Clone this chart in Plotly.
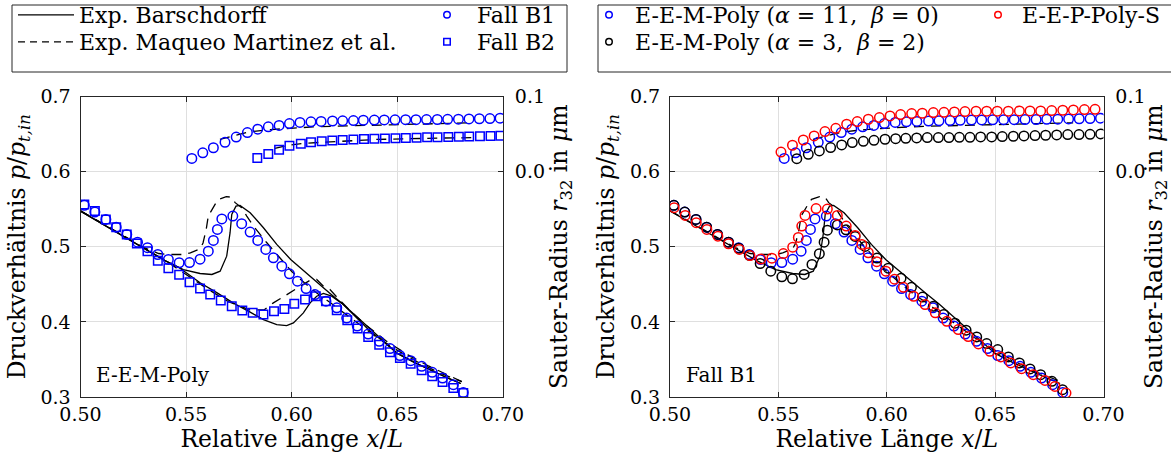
import plotly.graph_objects as go

FONT = "DejaVu Serif"
W, H = 1171, 463

# ---------------- data ----------------
# Fall B1 (E-E-M-Poly alpha=11, beta=0): pressure ratio
x_b1 = [0.5018, 0.5068, 0.5120, 0.5169, 0.5219, 0.5270, 0.5317, 0.5366, 0.5416, 0.5467,
        0.5516, 0.5566, 0.5605, 0.5629, 0.5648, 0.5669, 0.5721, 0.5763, 0.5803, 0.5839,
        0.5877, 0.5913, 0.5953, 0.5989, 0.6027, 0.6068, 0.6110, 0.6162, 0.6213, 0.6260,
        0.6310, 0.6362, 0.6414, 0.6465, 0.6512, 0.6563, 0.6615, 0.6665, 0.6714, 0.6765, 0.6812]
p_b1 = [0.5551, 0.5461, 0.5364, 0.5261, 0.5164, 0.5061, 0.4987, 0.4897, 0.4831, 0.4787,
        0.4790, 0.4835, 0.4941, 0.5084, 0.5231, 0.5370, 0.5408, 0.5307, 0.5195, 0.5084,
        0.4964, 0.4853, 0.4741, 0.4640, 0.4541, 0.4444, 0.4364, 0.4275, 0.4187, 0.4050,
        0.3945, 0.3838, 0.3741, 0.3644, 0.3551, 0.3484, 0.3408, 0.3328, 0.3253, 0.3164, 0.3061]
# Fall B1: Sauter radius
xr_b1 = [0.5527, 0.5579, 0.5629, 0.5684, 0.5737, 0.5790, 0.5839, 0.5889, 0.5940, 0.5989,
         0.6039, 0.6091, 0.6139, 0.6193, 0.6241, 0.6292, 0.6339, 0.6391, 0.6438, 0.6489,
         0.6539, 0.6588, 0.6638, 0.6689, 0.6738, 0.6789, 0.6839, 0.6888, 0.6938, 0.6986]
r_b1 = [0.0175, 0.0250, 0.0318, 0.0390, 0.0460, 0.0520, 0.0565, 0.0596, 0.0615, 0.0640,
        0.0655, 0.0663, 0.0668, 0.0674, 0.0676, 0.0680, 0.0684, 0.0686, 0.0688, 0.0690,
        0.0691, 0.0692, 0.0693, 0.0694, 0.0696, 0.0698, 0.0702, 0.0704, 0.0706, 0.0712]

# Fall B2: pressure ratio
x_b2 = [0.5018, 0.5068, 0.5120, 0.5169, 0.5219, 0.5267, 0.5317, 0.5366, 0.5416, 0.5467,
        0.5516, 0.5566, 0.5614, 0.5664, 0.5716, 0.5766, 0.5815, 0.5866, 0.5916, 0.5965,
        0.6012, 0.6063, 0.6114, 0.6162, 0.6213, 0.6263, 0.6312, 0.6362, 0.6414, 0.6465,
        0.6512, 0.6563, 0.6615, 0.6665, 0.6714, 0.6765, 0.6812]
p_b2 = [0.5564, 0.5475, 0.5364, 0.5260, 0.5164, 0.5044, 0.4941, 0.4812, 0.4715, 0.4626,
        0.4528, 0.4444, 0.4364, 0.4284, 0.4208, 0.4151, 0.4120, 0.4097, 0.4141, 0.4173,
        0.4240, 0.4297, 0.4341, 0.4275, 0.4155, 0.4021, 0.3911, 0.3800, 0.3697, 0.3595,
        0.3520, 0.3444, 0.3355, 0.3275, 0.3200, 0.3120, 0.3053]
# Fall B2: Sauter radius
xr_b2 = [0.5837, 0.5889, 0.5940, 0.5989, 0.6043, 0.6091, 0.6142, 0.6192, 0.6241, 0.6292,
         0.6342, 0.6391, 0.6441, 0.6491, 0.6540, 0.6591, 0.6641, 0.6690, 0.6741, 0.6791,
         0.6840, 0.6891, 0.6941, 0.6988]
r_b2 = [0.0180, 0.0236, 0.0292, 0.0343, 0.0372, 0.0390, 0.0403, 0.0414, 0.0422, 0.0427,
        0.0434, 0.0438, 0.0440, 0.0444, 0.0448, 0.0452, 0.0456, 0.0458, 0.0461, 0.0464,
        0.0467, 0.0470, 0.0473, 0.0476]

# E-E-M-Poly (alpha=3, beta=2): pressure ratio
x_a3 = [0.5018, 0.5068, 0.5120, 0.5169, 0.5219, 0.5270, 0.5317, 0.5366, 0.5416, 0.5465,
        0.5516, 0.5565, 0.5619, 0.5655, 0.5689, 0.5711, 0.5726, 0.5772, 0.5812, 0.5854,
        0.5900, 0.5955, 0.6007, 0.6066, 0.6114, 0.6165, 0.6215, 0.6263, 0.6315, 0.6366,
        0.6415, 0.6461, 0.6512, 0.6561, 0.6612, 0.6661, 0.6710, 0.6762, 0.6811]
p_a3 = [0.5551, 0.5461, 0.5364, 0.5261, 0.5164, 0.5061, 0.4980, 0.4886, 0.4777, 0.4675,
        0.4600, 0.4573, 0.4631, 0.4764, 0.4907, 0.5061, 0.5220, 0.5290, 0.5225, 0.5138,
        0.5004, 0.4850, 0.4715, 0.4580, 0.4460, 0.4330, 0.4209, 0.4098, 0.3982, 0.3889,
        0.3800, 0.3711, 0.3631, 0.3533, 0.3453, 0.3373, 0.3297, 0.3208, 0.3097]
# E-E-M-Poly (alpha=3, beta=2): Sauter radius
xr_a3 = [0.5585, 0.5638, 0.5689, 0.5741, 0.5792, 0.5841, 0.5892, 0.5941, 0.5992, 0.6041,
         0.6088, 0.6138, 0.6187, 0.6238, 0.6287, 0.6335, 0.6384, 0.6433, 0.6484, 0.6533,
         0.6584, 0.6633, 0.6684, 0.6733, 0.6784, 0.6835, 0.6887, 0.6938, 0.6987]
r_a3 = [0.0173, 0.0231, 0.0275, 0.0320, 0.0355, 0.0387, 0.0404, 0.0417, 0.0431, 0.0439,
        0.0444, 0.0448, 0.0453, 0.0453, 0.0453, 0.0457, 0.0457, 0.0462, 0.0462, 0.0466,
        0.0471, 0.0475, 0.0480, 0.0484, 0.0488, 0.0493, 0.0493, 0.0497, 0.0502]

# E-E-P-Poly-S: pressure ratio
x_ps = [0.5019, 0.5070, 0.5121, 0.5170, 0.5221, 0.5270, 0.5320, 0.5369, 0.5419, 0.5470,
        0.5523, 0.5566, 0.5592, 0.5608, 0.5623, 0.5674, 0.5726, 0.5772, 0.5813, 0.5854,
        0.5885, 0.5915, 0.5954, 0.5996, 0.6036, 0.6077, 0.6124, 0.6177, 0.6224, 0.6277,
        0.6330, 0.6376, 0.6423, 0.6476, 0.6526, 0.6572, 0.6622, 0.6676, 0.6730, 0.6776, 0.6827]
p_ps = [0.5520, 0.5417, 0.5320, 0.5231, 0.5141, 0.5040, 0.4964, 0.4882, 0.4836, 0.4848,
        0.4909, 0.4994, 0.5124, 0.5275, 0.5417, 0.5508, 0.5502, 0.5417, 0.5275, 0.5151,
        0.5031, 0.4920, 0.4801, 0.4675, 0.4568, 0.4460, 0.4341, 0.4231, 0.4120, 0.4008,
        0.3897, 0.3804, 0.3707, 0.3608, 0.3533, 0.3453, 0.3377, 0.3297, 0.3221, 0.3141, 0.3053]
# E-E-P-Poly-S: Sauter radius
xr_ps = [0.5512, 0.5565, 0.5615, 0.5665, 0.5715, 0.5765, 0.5815, 0.5864, 0.5915, 0.5966,
         0.6015, 0.6064, 0.6115, 0.6164, 0.6215, 0.6264, 0.6312, 0.6361, 0.6412, 0.6461,
         0.6510, 0.6561, 0.6612, 0.6661, 0.6710, 0.6761, 0.6812, 0.6861, 0.6912, 0.6961]
r_ps = [0.0261, 0.0351, 0.0421, 0.0475, 0.0533, 0.0577, 0.0631, 0.0667, 0.0697, 0.0720,
        0.0742, 0.0759, 0.0773, 0.0777, 0.0786, 0.0790, 0.0795, 0.0799, 0.0804, 0.0804,
        0.0804, 0.0804, 0.0808, 0.0808, 0.0808, 0.0813, 0.0817, 0.0821, 0.0826, 0.0830]

# Experiment Barschdorff (solid)
xe_bar_b1 = [0.500, 0.510, 0.520, 0.530, 0.540, 0.5487, 0.5566, 0.5622, 0.5661, 0.5692,
             0.5708, 0.5716, 0.5736, 0.5755, 0.5803, 0.5866, 0.5929, 0.5995, 0.6060, 0.6120,
             0.6180, 0.6240, 0.6300, 0.6370, 0.6420, 0.6500, 0.6580, 0.6660, 0.6740, 0.6800]
pe_bar_b1 = [0.5475, 0.5310, 0.5145, 0.4980, 0.4815, 0.4697, 0.4644, 0.4631, 0.4675, 0.4875,
             0.5187, 0.5430, 0.5541, 0.5550, 0.5453, 0.5253, 0.5031, 0.4831, 0.4670, 0.4520,
             0.4380, 0.4240, 0.4090, 0.3910, 0.3780, 0.3580, 0.3460, 0.3350, 0.3250, 0.3180]
xe_bar_b2 = [0.500, 0.510, 0.520, 0.530, 0.540, 0.5468, 0.5566, 0.5645, 0.5724, 0.5803,
             0.5866, 0.5929, 0.5976, 0.6008, 0.6055, 0.6087, 0.6118, 0.6150, 0.6189, 0.6244,
             0.6307, 0.6370, 0.6420, 0.6500, 0.6580, 0.6660, 0.6740, 0.6800]
pe_bar_b2 = [0.5475, 0.5310, 0.5145, 0.4980, 0.4815, 0.4720, 0.4520, 0.4390, 0.4250, 0.4130,
             0.4031, 0.3964, 0.3951, 0.3987, 0.4120, 0.4253, 0.4342, 0.4378, 0.4342, 0.4231,
             0.4053, 0.3880, 0.3770, 0.3580, 0.3460, 0.3350, 0.3250, 0.3180]
# Experiment Maqueo Martinez et al. (dashed)
xe_mm_b1 = [0.500, 0.510, 0.520, 0.530, 0.537, 0.542, 0.549, 0.552, 0.5566, 0.5580,
            0.5595, 0.5605, 0.5637, 0.5653, 0.5690, 0.5715, 0.5732, 0.5763, 0.5787, 0.5819,
            0.5880, 0.5940, 0.6000, 0.6060, 0.6120, 0.6180, 0.6250, 0.6320, 0.6400, 0.6500,
            0.6600, 0.6700, 0.6805]
pe_mm_b1 = [0.5480, 0.5315, 0.5150, 0.4990, 0.4910, 0.4897, 0.4897, 0.4920, 0.4973, 0.5050,
            0.5230, 0.5410, 0.5564, 0.5630, 0.5667, 0.5660, 0.5587, 0.5520, 0.5408, 0.5275,
            0.5060, 0.4860, 0.4670, 0.4520, 0.4380, 0.4260, 0.4110, 0.3960, 0.3800, 0.3620,
            0.3460, 0.3320, 0.3205]
xe_mm_b2 = [0.500, 0.510, 0.520, 0.530, 0.540, 0.550, 0.560, 0.570, 0.580, 0.587,
            0.5913, 0.5945, 0.5992, 0.6039, 0.6087, 0.6118, 0.6150, 0.6181, 0.6220, 0.6280,
            0.6350, 0.6450, 0.6550, 0.6650, 0.6750, 0.6805]
pe_mm_b2 = [0.5480, 0.5315, 0.5150, 0.4990, 0.4820, 0.4630, 0.4440, 0.4270, 0.4160, 0.4160,
            0.4253, 0.4307, 0.4387, 0.4475, 0.4555, 0.4565, 0.4475, 0.4431, 0.4310, 0.4140,
            0.3960, 0.3740, 0.3560, 0.3410, 0.3280, 0.3205]
# Experiment Maqueo Martinez et al.: Sauter radius
xre_mm_b1 = [0.566, 0.570, 0.575, 0.580, 0.590, 0.600, 0.610, 0.620, 0.630, 0.640,
             0.650, 0.660, 0.670, 0.680, 0.686]
re_mm_b1 = [0.0430, 0.0460, 0.0500, 0.0530, 0.0560, 0.0580, 0.0595, 0.0605, 0.0610, 0.0617,
            0.0625, 0.0632, 0.0640, 0.0648, 0.0650]
xre_mm_b2 = [0.592, 0.5945, 0.5992, 0.6055, 0.610, 0.620, 0.630, 0.640, 0.650, 0.660,
             0.670, 0.680, 0.686]
re_mm_b2 = [0.0310, 0.0328, 0.0355, 0.0377, 0.0385, 0.0398, 0.0413, 0.0428, 0.0437, 0.0442,
            0.0447, 0.0450, 0.0452]

# axes / ticks
x_range = [0.5, 0.7]
x_ticks = [0.50, 0.55, 0.60, 0.65, 0.70]
x_ticklabels = ["0.50", "0.55", "0.60", "0.65", "0.70"]
p_range = [0.3, 0.7]
p_ticks = [0.3, 0.4, 0.5, 0.6, 0.7]
p_ticklabels = ["0.3", "0.4", "0.5", "0.6", "0.7"]
r_range = [-0.3, 0.1]
r_ticks = [0.0, 0.1]
r_ticklabels = ["0.0", "0.1"]

BLUE, RED, BLACK = "#0000FF", "#FF0000", "#000000"
LW = 1.5
DASH = "10px,7px"
MS = 9.5

fig = go.Figure()


def line(x, y, dash, xa, ya):
    fig.add_trace(go.Scatter(x=x, y=y, mode="lines", xaxis=xa, yaxis=ya, showlegend=False,
                             line=dict(color=BLACK, width=1.3, dash=dash), hoverinfo="skip"))


def pts(x, y, color, symbol, xa, ya, size=MS):
    fig.add_trace(go.Scatter(x=x, y=y, mode="markers", xaxis=xa, yaxis=ya, showlegend=False,
                             marker=dict(symbol=symbol, size=size, color=color,
                                         line=dict(color=color, width=LW))))


# ---- left panel
line(xe_bar_b1, pe_bar_b1, "solid", "x", "y")
line(xe_bar_b2, pe_bar_b2, "solid", "x", "y")
line(xe_mm_b1, pe_mm_b1, DASH, "x", "y")
line(xe_mm_b2, pe_mm_b2, DASH, "x", "y")
line(xre_mm_b1, re_mm_b1, DASH, "x", "y2")
line(xre_mm_b2, re_mm_b2, DASH, "x", "y2")
pts(x_b1, p_b1, BLUE, "circle-open", "x", "y")
pts(x_b2, p_b2, BLUE, "square-open", "x", "y", 8.5)
pts(xr_b1, r_b1, BLUE, "circle-open", "x", "y2")
pts(xr_b2, r_b2, BLUE, "square-open", "x", "y2", 8.5)

# ---- right panel
line(xe_bar_b1, pe_bar_b1, "solid", "x2", "y3")
line(xe_mm_b1, pe_mm_b1, DASH, "x2", "y3")
line(xre_mm_b1, re_mm_b1, DASH, "x2", "y4")
pts(x_b1, p_b1, BLUE, "circle-open", "x2", "y3")
pts(xr_b1, r_b1, BLUE, "circle-open", "x2", "y4")
pts(x_a3, p_a3, BLACK, "circle-open", "x2", "y3")
pts(xr_a3, r_a3, BLACK, "circle-open", "x2", "y4")
pts(x_ps, p_ps, RED, "circle-open", "x2", "y3")
pts(xr_ps, r_ps, RED, "circle-open", "x2", "y4")


# ---- legend entries (legend-only)
def leg_line(name, dash, legend):
    fig.add_trace(go.Scatter(x=[None], y=[None], mode="lines", name=name, legend=legend,
                             line=dict(color=BLACK, width=1.3, dash=dash)))


def leg_mark(name, color, symbol, legend):
    fig.add_trace(go.Scatter(x=[None], y=[None], mode="markers", name=name, legend=legend,
                             marker=dict(symbol=symbol, size=6.5, color=color,
                                         line=dict(color=color, width=1.5))))


leg_line("Exp. Barschdorff", "solid", "legend")
leg_line("Exp. Maqueo Martinez et al.", "7px,5px", "legend2")
leg_mark("Fall B1", BLUE, "circle-open", "legend3")
leg_mark("Fall B2", BLUE, "square-open", "legend4")
leg_mark("E-E-M-Poly (<i>α</i> = 11,  <i>β</i> = 0)", BLUE, "circle-open", "legend5")
leg_mark("E-E-M-Poly (<i>α</i> = 3,  <i>β</i> = 2)", BLACK, "circle-open", "legend6")
leg_mark("E-E-P-Poly-S", RED, "circle-open", "legend7")


def px(v):
    return v / W


def py(v):
    return (H - v) / H


def leg(x, y, iw):
    return dict(x=px(x), y=py(y), xanchor="left", yanchor="middle", bgcolor="rgba(0,0,0,0)",
                borderwidth=0, itemwidth=iw, font=dict(family=FONT, size=22, color="black"))


ROW1, ROW2 = 15, 42

tickfont = dict(family=FONT, size=19, color="black")
titlefont = dict(family=FONT, size=23.5, color="black")
AX = "#262626"
GRID = "#dfdfdf"


def xax(domain, anchor):
    return dict(domain=domain, anchor=anchor, range=x_range, tickvals=x_ticks, ticktext=x_ticklabels,
                showline=True, linecolor=AX, linewidth=1, mirror="ticks", ticks="inside", ticklen=5,
                tickcolor=AX, showgrid=True, gridcolor=GRID, zeroline=False, tickfont=tickfont,
                title=dict(text="Relative Länge <i>x</i>/<i>L</i>", font=titlefont, standoff=5))


def yax(domain, anchor):
    return dict(domain=domain, anchor=anchor, range=p_range, tickvals=p_ticks, ticktext=p_ticklabels,
                showline=True, linecolor=AX, linewidth=1, ticks="inside", ticklen=5, tickcolor=AX,
                showgrid=True, gridcolor=GRID, zeroline=False, tickfont=tickfont, ticklabelstandoff=5,
                title=dict(text="Druckverhältnis <i>p</i>/<i>p</i><sub><i>t,in</i></sub>",
                           font=titlefont, standoff=8))


def rax(over, anchor):
    return dict(overlaying=over, anchor=anchor, side="right", range=r_range, tickvals=r_ticks,
                ticktext=r_ticklabels, showline=True, linecolor=AX, linewidth=1, ticks="inside",
                ticklen=5, tickcolor=AX, showgrid=False, zeroline=False, tickfont=tickfont,
                ticklabelstandoff=7,
                title=dict(text="Sauter-Radius <i>r</i><sub>32</sub> in <i>μ</i>m", font=titlefont,
                           standoff=5))


ydom = [py(397), py(96.5)]
fig.update_layout(
    width=W, height=H, margin=dict(l=0, r=0, t=0, b=0, autoexpand=False),
    paper_bgcolor="white", plot_bgcolor="white",
    font=dict(family=FONT, color="black"),
    xaxis=xax([px(80.5), px(503)], "y"),
    yaxis=yax(ydom, "x"),
    yaxis2=rax("y", "x"),
    xaxis2=xax([px(670), px(1103.5)], "y3"),
    yaxis3=yax(ydom, "x2"),
    yaxis4=rax("y3", "x2"),
    legend=leg(13, ROW1, 56),
    legend2=leg(13, ROW2, 56),
    legend3=leg(417, ROW1, 50),
    legend4=leg(417, ROW2, 50),
    legend5=leg(583, ROW1, 42),
    legend6=leg(583, ROW2, 42),
    legend7=leg(974, ROW1, 38),
    shapes=[
        dict(type="rect", xref="paper", yref="paper", x0=px(12), x1=px(567), y0=py(72), y1=py(5),
             line=dict(color=AX, width=1), fillcolor="rgba(0,0,0,0)"),
        dict(type="rect", xref="paper", yref="paper", x0=px(598), x1=px(1200), y0=py(72), y1=py(5),
             line=dict(color=AX, width=1), fillcolor="rgba(0,0,0,0)"),
    ],
    annotations=[
        dict(text="E-E-M-Poly", x=px(94), y=py(375), xref="paper", yref="paper", xanchor="left",
             yanchor="middle", showarrow=False, font=dict(family=FONT, size=20, color="black")),
        dict(text="Fall B1", x=px(684), y=py(375), xref="paper", yref="paper", xanchor="left",
             yanchor="middle", showarrow=False, font=dict(family=FONT, size=20, color="black")),
    ],
)

fig.write_html("out.html")
